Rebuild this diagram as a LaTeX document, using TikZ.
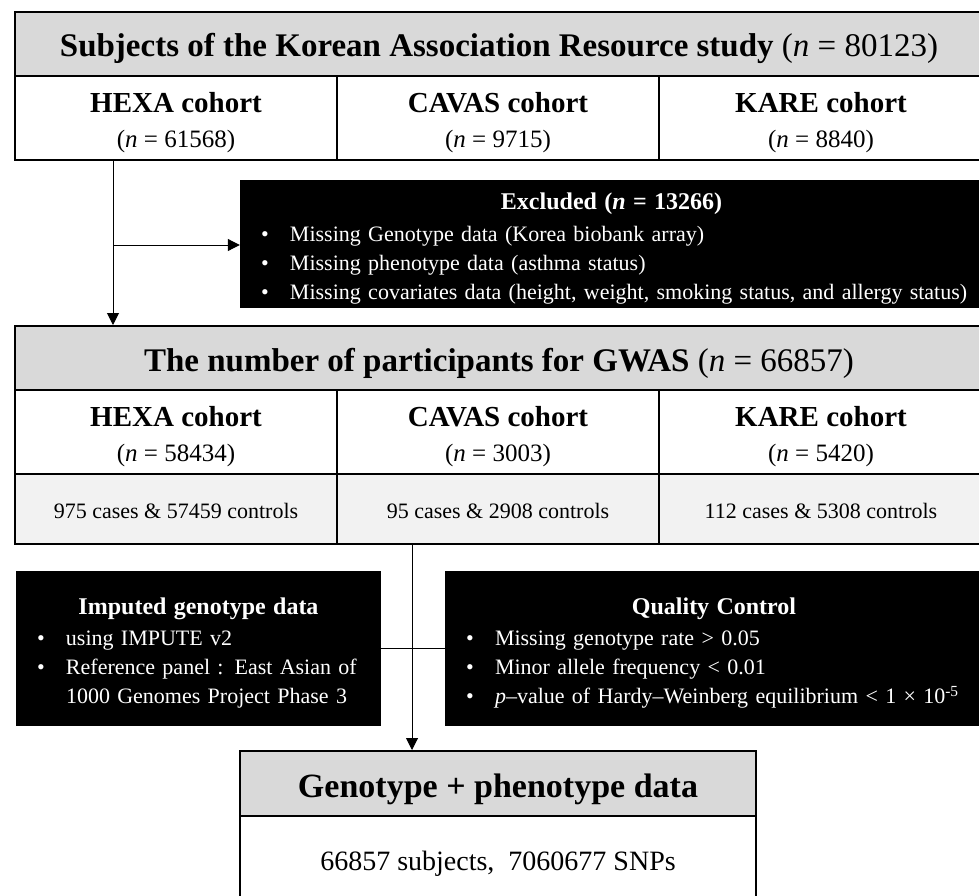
\documentclass[tikz,border=0pt]{standalone}
\usepackage{fontspec}
\setmainfont{Liberation Serif}
\usetikzlibrary{arrows.meta,positioning}
\definecolor{headgray}{HTML}{D9D9D9}
\definecolor{casegray}{HTML}{F2F2F2}
\newcommand{\bul}[1]{\par\noindent\makebox[29pt][l]{\textbullet}#1}
\newcommand{\notetitle}[1]{{\centering\rule{0pt}{26pt}{\fontsize{24}{29}\selectfont\textbf{#1}}\par}}
\newcommand{\cohorttext}[2]{\rule{0pt}{30pt}\textbf{#1}\\{\fontsize{25}{35}\selectfont(\textit{n} = #2)}}
\begin{document}
\begin{tikzpicture}[x=1pt, y=-1pt,
		box/.style={draw, line width=2pt, inner sep=0pt, align=center},
		head/.style={box, fill=headgray, minimum width=968pt, minimum height=64pt, text height=30pt, text depth=4pt, font=\fontsize{33}{38}\selectfont},
		cohort/.style={box, minimum width=322pt, minimum height=84pt, font=\fontsize{29}{35}\selectfont},
		counts/.style={box, fill=casegray, minimum width=322pt, minimum height=70pt, text height=20pt, text depth=2pt, font=\fontsize{22}{26}\selectfont},
		note/.style={fill=black, text=white, inner xsep=21pt, inner ysep=0pt, font=\fontsize{22}{29}\selectfont},
		link/.style={line width=1pt},
		arr/.style={link, -{Triangle[length=12pt, width=12pt]}}]
	\useasboundingbox (0,0) rectangle (979,896);
	\node[head] (subj) at (499,44) {\textbf{Subjects of the Korean Association Resource study} (\textit{n} = 80123)};
	\node[cohort] (hexa1) at (176,118) {\cohorttext{HEXA cohort}{61568}};
	\node[cohort] (cavas1) at (498,118) {\cohorttext{CAVAS cohort}{9715}};
	\node[cohort, minimum width=324pt] (kare1) at (821,118) {\cohorttext{KARE cohort}{8840}};
	\node[note, minimum width=743pt, minimum height=128pt, text width=701pt] (excl) at (611.5,244) {
		\notetitle{Excluded (\textit{n} = 13266)}
		\vspace{3pt}
		\bul{\mbox{Missing Genotype data (Korea biobank array)}}
		\bul{\mbox{Missing phenotype data (asthma status)}}
		\bul{\mbox{Missing covariates data (height, weight, smoking status, and allergy status)}}};
	\node[head] (gwas) at (499,358) {\textbf{The number of participants for GWAS} (\textit{n} = 66857)};
	\node[cohort] (hexa2) at (176,432) {\cohorttext{HEXA cohort}{58434}};
	\node[cohort] (cavas2) at (498,432) {\cohorttext{CAVAS cohort}{3003}};
	\node[cohort, minimum width=324pt] (kare2) at (821,432) {\cohorttext{KARE cohort}{5420}};
	\node[counts] (case1) at (176,509) {975 cases \& 57459 controls};
	\node[counts] (case2) at (498,509) {95 cases \& 2908 controls};
	\node[counts, minimum width=324pt] (case3) at (821,509) {112 cases \& 5308 controls};
	\node[note, minimum width=365pt, minimum height=155pt, text width=323pt] (imp) at (198.5,648.5) {
		\notetitle{Imputed genotype data}
		\vspace{2pt}
		\bul{\mbox{using IMPUTE v2}}
		\bul{\mbox{Reference panel : East Asian of}\\\hspace*{29pt}\mbox{1000 Genomes Project Phase 3}}};
	\node[note, minimum width=538pt, minimum height=155pt, text width=496pt] (qc) at (714,648.5) {
		\notetitle{Quality Control}
		\vspace{2pt}
		\bul{\mbox{Missing genotype rate > 0.05}}
		\bul{\mbox{Minor allele frequency < 0.01}}
		\bul{\mbox{\textit{p}--value of Hardy--Weinberg equilibrium < 1 × 10\textsuperscript{-5}}}};
	\node[box, fill=headgray, minimum width=516pt, minimum height=65pt, text height=30pt, text depth=3pt, font=\fontsize{34}{38}\selectfont] (geno) at (498,783.5) {\textbf{Genotype + phenotype data}};
	\node[box, minimum width=516pt, minimum height=92pt, text height=20pt, text depth=4pt, font=\fontsize{28}{32}\selectfont] (snps) at (498,862) {66857 subjects,\ \ 7060677 SNPs};
	\coordinate (split) at (113,245);
	\coordinate (join) at (412,648.5);
	\draw[arr] (split |- hexa1.south) -- (split |- gwas.north);
	\draw[arr] (split) -- (split -| excl.west);
	\draw[link] (imp.east) -- (qc.west);
	\draw[arr] (join |- case2.south) -- (join |- geno.north);
\end{tikzpicture}
\end{document}
